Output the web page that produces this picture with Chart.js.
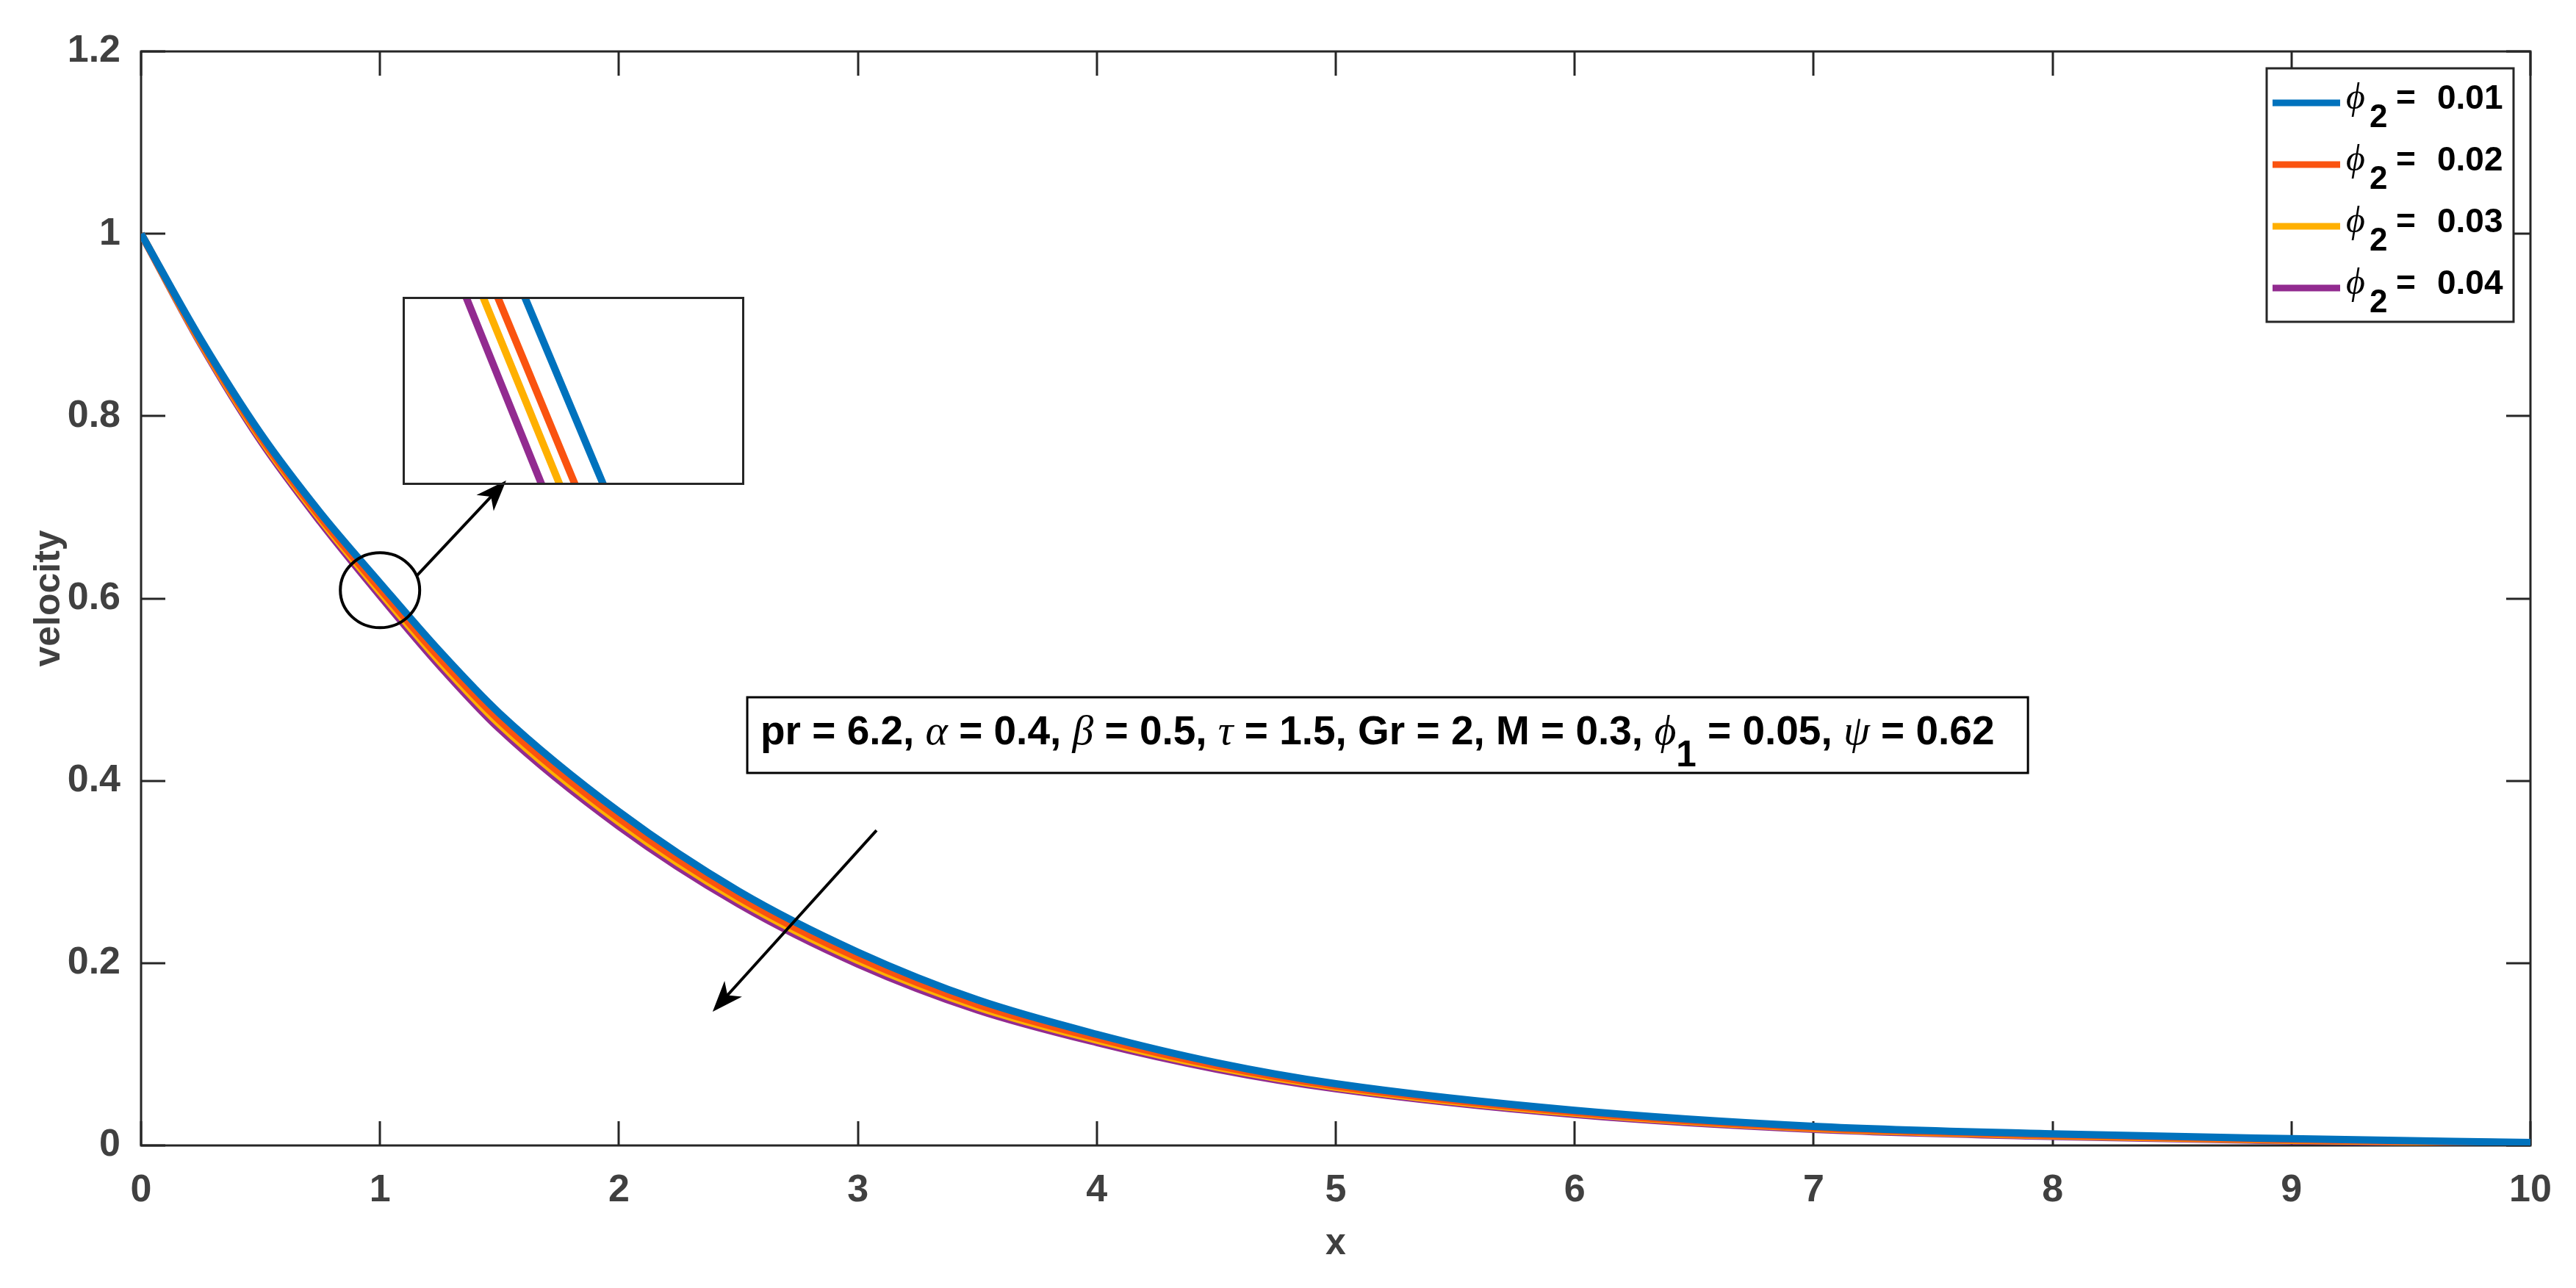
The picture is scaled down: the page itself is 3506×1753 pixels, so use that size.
<!DOCTYPE html>
<html>
<head>
<meta charset="utf-8">
<script src="https://cdn.jsdelivr.net/npm/chart.js@4.4.1/dist/chart.umd.min.js"></script>
<style>
  html, body { margin: 0; padding: 0; background: #fff; }
  #wrap { position: relative; width: 3506px; height: 1753px; }
  #main { position: absolute; left: 0; top: 0; }
  #inset { position: absolute; left: 548px; top: 404px; }
</style>
</head>
<body>
<div id="wrap">
  <canvas id="main" width="3506" height="1753"></canvas>
  <canvas id="inset" width="465" height="256"></canvas>
</div>
<script>
// x positions and velocity
const xValues = [0, 0.25, 0.5, 0.75, 1, 1.25, 1.5, 2, 2.5, 3, 3.5, 4, 4.5, 5, 6, 7, 8, 9, 10];
const phi2_001 = [1, 0.884, 0.781, 0.694, 0.617, 0.542, 0.474, 0.366, 0.279, 0.212, 0.1597, 0.1219, 0.0908, 0.0677, 0.0385, 0.0210, 0.0127, 0.0074, 0.0032];
const phi2_002 = [1, 0.8818, 0.7775, 0.6895, 0.6107, 0.5348, 0.4664, 0.3588, 0.2727, 0.2062, 0.1548, 0.1179, 0.0877, 0.0652, 0.0365, 0.0195, 0.0114, 0.0063, 0.0028];
const phi2_003 = [1, 0.8805, 0.7755, 0.6870, 0.6072, 0.5308, 0.4621, 0.3548, 0.2692, 0.2029, 0.1520, 0.1156, 0.0859, 0.0639, 0.0354, 0.0187, 0.0107, 0.0057, 0.0026];
const phi2_004 = [1, 0.879, 0.773, 0.684, 0.603, 0.526, 0.457, 0.350, 0.265, 0.199, 0.1487, 0.1129, 0.0838, 0.0622, 0.0340, 0.0177, 0.0099, 0.0050, 0.0024];

const seriesNames = ['0.01', '0.02', '0.03', '0.04'];
const seriesValues = [phi2_001, phi2_002, phi2_003, phi2_004];
const seriesColors = ['#0072BD', '#FA5310', '#FFB000', '#922B90'];

const xTicks = [0, 1, 2, 3, 4, 5, 6, 7, 8, 9, 10];
const xTickLabels = ['0', '1', '2', '3', '4', '5', '6', '7', '8', '9', '10'];
const yTicks = [0, 0.2, 0.4, 0.6, 0.8, 1, 1.2];
const yTickLabels = ['0', '0.2', '0.4', '0.6', '0.8', '1', '1.2'];

// zoomed window shown in the inset box
const insetX = [0.902, 1.158];
const insetY = [0.601, 0.619];

const SANS = '"Liberation Sans", Arial, Helvetica, sans-serif';
const SERIF = '"Liberation Serif", "DejaVu Serif", serif';
const PHI = '\u03D5';

function makeDatasets() {
  return seriesValues.map((vals, i) => ({
    label: PHI + '2 =  ' + seriesNames[i],
    data: xValues.map((x, j) => ({ x, y: vals[j] })),
    borderColor: seriesColors[i],
    backgroundColor: seriesColors[i],
    borderWidth: 10,
    pointRadius: 0,
    cubicInterpolationMode: 'monotone',
    fill: false,
  }));
}

// draws runs of [text, kind] on one baseline, returns end x
function drawRuns(ctx, runs, x, y, size, measureOnly) {
  let cx = x;
  runs.forEach(([text, kind]) => {
    let font = `bold ${size}px ${SANS}`;
    let dy = 0;
    if (kind === 'g') font = `italic ${size * 1.05}px ${SERIF}`;
    if (kind === 'sub') { font = `bold ${size * 0.9}px ${SANS}`; dy = size * 0.55; }
    ctx.font = font;
    if (!measureOnly) ctx.fillText(text, cx, y + dy);
    cx += ctx.measureText(text).width;
  });
  return cx;
}

function arrow(ctx, x1, y1, x2, y2) {
  const a = Math.atan2(y2 - y1, x2 - x1);
  const len = 42, hw = 16;
  const c = Math.cos(a), s = Math.sin(a);
  ctx.beginPath();
  ctx.moveTo(x1, y1);
  ctx.lineTo(x2 - c * len * 0.6, y2 - s * len * 0.6);
  ctx.stroke();
  ctx.beginPath();
  ctx.moveTo(x2, y2);
  ctx.lineTo(x2 - c * len - s * hw, y2 - s * len + c * hw);
  ctx.lineTo(x2 - c * len * 0.72, y2 - s * len * 0.72);
  ctx.lineTo(x2 - c * len + s * hw, y2 - s * len - c * hw);
  ctx.closePath();
  ctx.fill();
}

const frame = {
  id: 'frame',
  beforeDatasetsDraw(chart) {
    const { ctx, chartArea: a, scales: { x, y } } = chart;
    const tl = 33;
    ctx.save();
    ctx.strokeStyle = '#262626';
    ctx.lineWidth = 3;
    ctx.strokeRect(a.left, a.top, a.right - a.left, a.bottom - a.top);
    ctx.beginPath();
    xTicks.forEach(v => {
      const px = Math.round(x.getPixelForValue(v));
      ctx.moveTo(px, a.bottom); ctx.lineTo(px, a.bottom - tl);
      ctx.moveTo(px, a.top); ctx.lineTo(px, a.top + tl);
    });
    yTicks.forEach(v => {
      const py = Math.round(y.getPixelForValue(v));
      ctx.moveTo(a.left, py); ctx.lineTo(a.left + tl, py);
      ctx.moveTo(a.right, py); ctx.lineTo(a.right - tl, py);
    });
    ctx.stroke();
    ctx.restore();
  },
};

const notes = {
  id: 'notes',
  afterDatasetsDraw(chart) {
    const { ctx, chartArea: a, scales: { x, y } } = chart;
    ctx.save();
    ctx.strokeStyle = '#000';
    ctx.fillStyle = '#000';

    // circle around the zoomed region
    ctx.lineWidth = 4;
    ctx.beginPath();
    ctx.ellipse(x.getPixelForValue(1.0), y.getPixelForValue(0.609), 54, 51, 0, 0, Math.PI * 2);
    ctx.stroke();

    // arrows
    ctx.lineWidth = 4;
    arrow(ctx, x.getPixelForValue(1.156), y.getPixelForValue(0.6254), x.getPixelForValue(1.528), y.getPixelForValue(0.7294));
    arrow(ctx, x.getPixelForValue(3.078), y.getPixelForValue(0.3457), x.getPixelForValue(2.392), y.getPixelForValue(0.1467));

    // parameter box
    const bl = x.getPixelForValue(2.537), br = x.getPixelForValue(7.897);
    const bt = y.getPixelForValue(0.4916), bb = y.getPixelForValue(0.4086);
    ctx.fillStyle = '#fff';
    ctx.fillRect(bl, bt, br - bl, bb - bt);
    ctx.lineWidth = 3;
    ctx.strokeRect(bl, bt, br - bl, bb - bt);
    ctx.fillStyle = '#000';
    const runs = [
      ['pr = 6.2, ', 'b'], ['\u03B1', 'g'], [' = 0.4, ', 'b'], ['\u03B2', 'g'], [' = 0.5, ', 'b'],
      ['\u03C4', 'g'], [' = 1.5, Gr = 2, M = 0.3, ', 'b'], [PHI, 'g'], ['1', 'sub'], [' = 0.05, ', 'b'],
      ['\u03C8', 'g'], [' = 0.62', 'b'],
    ];
    ctx.textBaseline = 'alphabetic';
    ctx.textAlign = 'left';
    let size = 46;
    const w = drawRuns(ctx, runs, 0, 0, size, true);
    size = size * 1680 / w;
    drawRuns(ctx, runs, bl + 18, y.getPixelForValue(0.44), size, false);

    // legend
    const lx = a.right - 359, ly = a.top + 23, lw = 336, lh = 345;
    ctx.fillStyle = '#fff';
    ctx.fillRect(lx, ly, lw, lh);
    ctx.strokeStyle = '#262626';
    ctx.lineWidth = 3;
    ctx.strokeRect(lx, ly, lw, lh);
    chart.data.datasets.forEach((ds, i) => {
      const base = ly + 55 + i * 84;
      ctx.strokeStyle = ds.borderColor;
      ctx.lineWidth = 9;
      ctx.beginPath();
      ctx.moveTo(lx + 8, base - 8);
      ctx.lineTo(lx + 100, base - 8);
      ctx.stroke();
      ctx.fillStyle = '#000';
      ctx.font = `italic 50px ${SERIF}`;
      ctx.fillText(PHI, lx + 108, base);
      ctx.font = `bold 44px ${SANS}`;
      ctx.fillText('2', lx + 140, base + 25);
      ctx.font = `bold 46px ${SANS}`;
      ctx.fillText('=', lx + 176, base);
      ctx.fillText(seriesNames[i], lx + 232, base);
    });
    ctx.restore();
  },
};

const tickFont = { family: SANS, size: 52, weight: 'bold' };
const titleFont = { family: SANS, size: 50, weight: 'bold' };

new Chart(document.getElementById('main'), {
  type: 'line',
  data: { datasets: makeDatasets() },
  options: {
    responsive: false,
    animation: false,
    layout: { padding: { left: 0, top: 70, right: 62, bottom: 0 } },
    plugins: { legend: { display: false }, tooltip: { enabled: false } },
    scales: {
      x: {
        type: 'linear', min: 0, max: 10,
        grid: { display: false }, border: { display: false },
        afterBuildTicks: s => { s.ticks = xTicks.map(v => ({ value: v })); },
        afterFit: s => { s.height = 194; },
        ticks: { font: tickFont, color: '#404040', padding: 22, maxRotation: 0, autoSkip: false,
                 callback: (v, i) => xTickLabels[i] },
        title: { display: true, text: 'x', font: titleFont, color: '#404040', padding: { top: 0, bottom: 30 } },
      },
      y: {
        type: 'linear', min: 0, max: 1.2,
        grid: { display: false }, border: { display: false },
        afterBuildTicks: s => { s.ticks = yTicks.map(v => ({ value: v })); },
        afterFit: s => { s.width = 192; },
        ticks: { font: tickFont, color: '#404040', padding: 20, autoSkip: false,
                 callback: (v, i) => yTickLabels[i] },
        title: { display: true, text: 'velocity', font: titleFont, color: '#404040', padding: { top: 37, bottom: 0 } },
      },
    },
  },
  plugins: [frame, notes],
});

const insetFrame = {
  id: 'insetFrame',
  afterDraw(chart) {
    const { ctx, width, height } = chart;
    ctx.save();
    ctx.strokeStyle = '#262626';
    ctx.lineWidth = 3;
    ctx.strokeRect(1.5, 1.5, width - 3, height - 3);
    ctx.restore();
  },
};

new Chart(document.getElementById('inset'), {
  type: 'line',
  data: { datasets: makeDatasets() },
  options: {
    responsive: false,
    animation: false,
    layout: { padding: 0 },
    plugins: { legend: { display: false }, tooltip: { enabled: false } },
    scales: {
      x: { type: 'linear', min: insetX[0], max: insetX[1], display: false },
      y: { type: 'linear', min: insetY[0], max: insetY[1], display: false },
    },
  },
  plugins: [insetFrame],
});
</script>
</body>
</html>
